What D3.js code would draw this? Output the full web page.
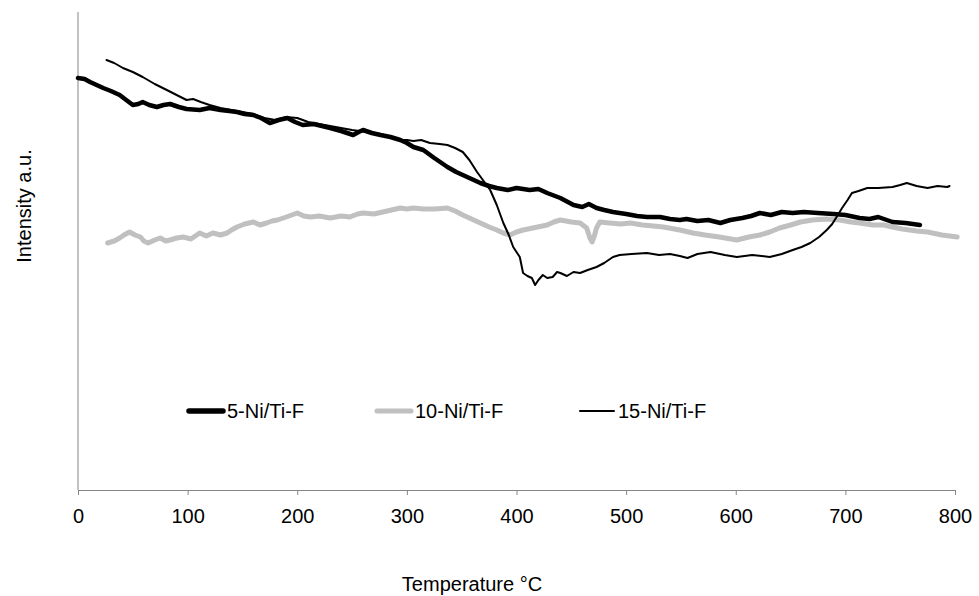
<!DOCTYPE html>
<html>
<head>
<meta charset="utf-8">
<script src="https://cdn.jsdelivr.net/npm/d3@7"></script>
<style>
  body { margin: 0; background: #fff; }
  text { font-family: "Liberation Sans", Arial, sans-serif; }
</style>
</head>
<body>
<div id="chart"></div>
<script>
// temperature (°C), intensity (a.u.) pairs
const ni5 = [
  [0, 412], [6, 411], [11, 408], [17, 405], [23, 402], [30, 399], [38, 395], [44, 390], [50, 385],
  [55, 386], [59, 388], [65, 385], [72, 383], [78, 385], [84, 386], [92, 383], [99, 381],
  [111, 380], [120, 382], [130, 380], [138, 379], [145, 378], [152, 376], [160, 375], [167, 372],
  [175, 367], [183, 370], [191, 372], [198, 368], [205, 365], [215, 366], [230, 362], [240, 359],
  [251, 355], [256, 358], [260, 360], [268, 357], [276, 355], [285, 353], [294, 350], [300, 347],
  [306, 343], [315, 340], [325, 332], [337, 323], [345, 318], [355, 313], [367, 307], [375, 304],
  [382, 302], [392, 300], [400, 302], [412, 300], [420, 301], [428, 297], [440, 292], [452, 285],
  [460, 283], [466, 286], [473, 282], [480, 280], [488, 278], [500, 276], [510, 274], [519, 273],
  [531, 273], [540, 271], [549, 270], [555, 271], [565, 269], [575, 270], [586, 267], [595, 270],
  [606, 272], [614, 274], [622, 277], [632, 275], [642, 278], [652, 277], [662, 278], [675, 277],
  [689, 276], [700, 275], [713, 272], [722, 271], [730, 273], [743, 268], [755, 267], [768, 265]
];

const ni10 = [
  [27, 247], [33, 249], [38, 252], [42, 255], [47, 258], [52, 255], [57, 253], [60, 249], [64, 247],
  [70, 250], [75, 252], [80, 249], [84, 250], [90, 252], [96, 253], [103, 251], [111, 257],
  [117, 254], [123, 257], [130, 255], [136, 257], [140, 260], [145, 263], [152, 266], [160, 268],
  [166, 265], [172, 267], [177, 269], [182, 270], [190, 273], [200, 277], [206, 274], [212, 273],
  [220, 274], [230, 272], [240, 274], [248, 273], [255, 276], [260, 277], [270, 276], [278, 278],
  [286, 280], [294, 282], [300, 281], [306, 282], [315, 281], [325, 281], [337, 282], [344, 279],
  [351, 275], [359, 271], [367, 267], [375, 263], [382, 260], [388, 257], [394, 255], [400, 258],
  [406, 260], [415, 262], [428, 265], [434, 268], [440, 270], [450, 268], [458, 267], [464, 262],
  [467, 252], [469, 248], [471, 254], [473, 262], [476, 268], [485, 267], [495, 266], [504, 267],
  [515, 265], [525, 264], [534, 263], [549, 260], [561, 257], [572, 255], [585, 253], [601, 250],
  [612, 253], [622, 255], [631, 258], [640, 262], [650, 265], [659, 268], [670, 270], [683, 271],
  [695, 270], [705, 268], [713, 267], [725, 265], [735, 265], [743, 263], [752, 261], [765, 259],
  [775, 258], [788, 255], [802, 253]
];

const ni15 = [
  [26, 430], [33, 427], [41, 422], [50, 418], [59, 413], [70, 406], [81, 400], [90, 395], [99, 390],
  [105, 391], [112, 388], [120, 385], [130, 382], [140, 380], [150, 378], [160, 376], [170, 372],
  [180, 370], [190, 373], [200, 372], [210, 368], [220, 366], [235, 363], [250, 360], [263, 358],
  [276, 356], [285, 353], [294, 350], [300, 350], [306, 349], [313, 350], [321, 347], [330, 346],
  [337, 345], [344, 342], [351, 338], [357, 330], [364, 318], [370, 309], [376, 300], [382, 285],
  [388, 267], [393, 255], [397, 243], [400, 238], [403, 233], [406, 217], [410, 214], [414, 212],
  [417, 205], [420, 210], [424, 215], [428, 212], [433, 213], [437, 218], [440, 217], [446, 214],
  [452, 218], [458, 217], [465, 220], [473, 223], [480, 227], [488, 233], [494, 235], [505, 236],
  [519, 237], [530, 235], [540, 236], [549, 234], [556, 232], [565, 236], [577, 238], [590, 235],
  [601, 233], [615, 235], [631, 233], [642, 236], [652, 240], [660, 243], [668, 247], [676, 253],
  [683, 260], [688, 266], [692, 273], [697, 282], [702, 290], [706, 297], [712, 299], [720, 302],
  [730, 302], [743, 303], [750, 305], [756, 307], [765, 304], [775, 302], [784, 304], [793, 303],
  [795, 304]
];

const seriesNames = ["5-Ni/Ti-F", "10-Ni/Ti-F", "15-Ni/Ti-F"];
const seriesData = [ni5, ni10, ni15];
const xTicks = [0, 100, 200, 300, 400, 500, 600, 700, 800];

const width = 979;
const height = 596;
const margin = { left: 78, right: 24, top: 12, bottom: 106 };
const fontSize = 20;

const svg = d3.select("#chart")
  .append("svg")
  .attr("width", width)
  .attr("height", height);

const x = d3.scaleLinear()
  .domain([0, 800])
  .range([margin.left, width - margin.right]);

const y = d3.scaleLinear()
  .domain([0, 478])
  .range([height - margin.bottom, margin.top]);

// axes
const xAxis = svg.append("g")
  .attr("transform", `translate(0,${height - margin.bottom})`)
  .call(d3.axisBottom(x).tickValues(xTicks).tickSize(5).tickPadding(14).tickSizeOuter(0));
xAxis.select(".domain").attr("stroke", "#868686");
xAxis.selectAll(".tick line").attr("stroke", "#868686");
xAxis.selectAll(".tick text")
  .attr("font-size", fontSize)
  .attr("fill", "#000")
  .style("font-family", "Liberation Sans, Arial, sans-serif");

svg.append("line")
  .attr("x1", x(0)).attr("x2", x(0))
  .attr("y1", y(0)).attr("y2", y(478))
  .attr("stroke", "#868686")
  .attr("stroke-width", 1);

svg.append("text")
  .attr("x", 472)
  .attr("y", 591)
  .attr("text-anchor", "middle")
  .attr("font-size", fontSize)
  .text("Temperature °C");

svg.append("text")
  .attr("transform", `translate(31,206) rotate(-90)`)
  .attr("text-anchor", "middle")
  .attr("font-size", fontSize)
  .text("Intensity a.u.");

// lines
const styles = [
  { stroke: "#000", width: 4.5 },
  { stroke: "#c0c0c0", width: 5 },
  { stroke: "#000", width: 2 }
];

const line = d3.line()
  .x(d => x(d[0]))
  .y(d => y(d[1]));

// draw order: grey below, then the black ones
[1, 0, 2].forEach(i => {
  svg.append("path")
    .datum(seriesData[i])
    .attr("fill", "none")
    .attr("stroke", styles[i].stroke)
    .attr("stroke-width", styles[i].width)
    .attr("stroke-linejoin", "round")
    .attr("stroke-linecap", "round")
    .attr("d", line);
});

// legend
const legendX = [187, 375, 578];
const legend = svg.append("g").attr("transform", "translate(0,411)");
seriesNames.forEach((name, i) => {
  const g = legend.append("g").attr("transform", `translate(${legendX[i]},0)`);
  g.append("line")
    .attr("x1", 2).attr("x2", 36)
    .attr("y1", 0).attr("y2", 0)
    .attr("stroke", styles[i].stroke)
    .attr("stroke-width", i === 0 ? 5.5 : styles[i].width)
    .attr("stroke-linecap", "round");
  g.append("text")
    .attr("x", 40)
    .attr("dy", "0.35em")
    .attr("font-size", fontSize)
    .text(name);
});
</script>
</body>
</html>
